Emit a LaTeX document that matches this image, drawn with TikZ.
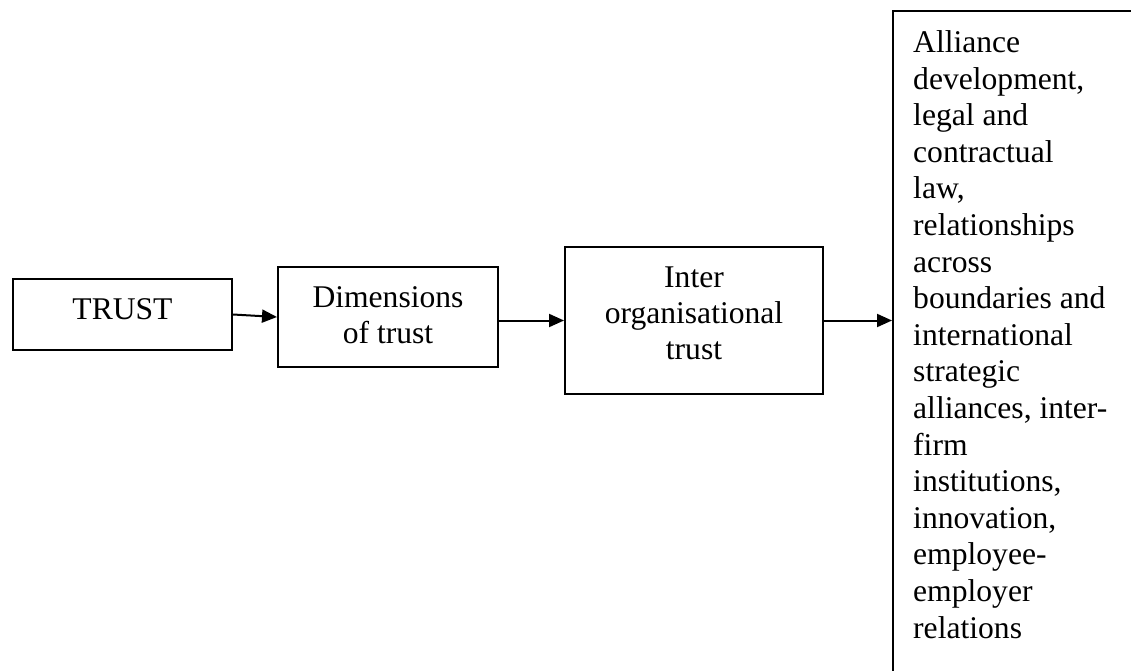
\documentclass[tikz,border=0pt]{standalone}
\usepackage{fontspec}
\setmainfont{Liberation Serif}
\usetikzlibrary{arrows.meta}
\begin{document}
\begin{tikzpicture}[x=1pt,y=-1pt,
  box/.style={draw, line width=2pt, inner sep=0pt, rectangle},
  boxtext/.style={font=\fontsize{31.6}{36}\selectfont, align=center, inner sep=0pt, anchor=base},
  link/.style={line width=2pt, -{Triangle[length=15pt,width=13pt]}}]
\useasboundingbox (0,0) rectangle (1131,671);
\begin{scope}
\clip (0,0) rectangle (1131,671);
% frames of the four stages
\node[box, minimum width=219pt, minimum height=71pt]  (trust) at (122.5,314.5) {};
\node[box, minimum width=220pt, minimum height=100pt] (dims)  at (388,317) {};
\node[box, minimum width=258pt, minimum height=147pt] (inter) at (694,320.5) {};
\node[box, minimum width=252pt, minimum height=679pt] (big)   at (1019,350.5) {};
% texts (the base anchor of a multi-line text is its last line)
\node[boxtext] (trusttext) at (122.5,319) {TRUST};
\node[boxtext] (dimstext)  at (388,343) {Dimensions\\of trust};
\node[boxtext] (intertext) at (694,359) {Inter\\organisational\\trust};
\node[boxtext, align=left, anchor=base west, font=\fontsize{31.6}{36.6}\selectfont] (bigtext) at (913,638)
  {Alliance\\development,\\legal and\\contractual\\law,\\relationships\\across\\boundaries and\\international\\strategic\\alliances, inter-\\firm\\institutions,\\innovation,\\employee-\\employer\\relations};
% connectors
\draw[link] (trust.east) -- (dims.west);
\draw[link] (dims.east |- inter.west) -- (inter.west);
\draw[link] (inter.east) -- (inter.east -| big.west);
\end{scope}
\end{tikzpicture}
\end{document}
